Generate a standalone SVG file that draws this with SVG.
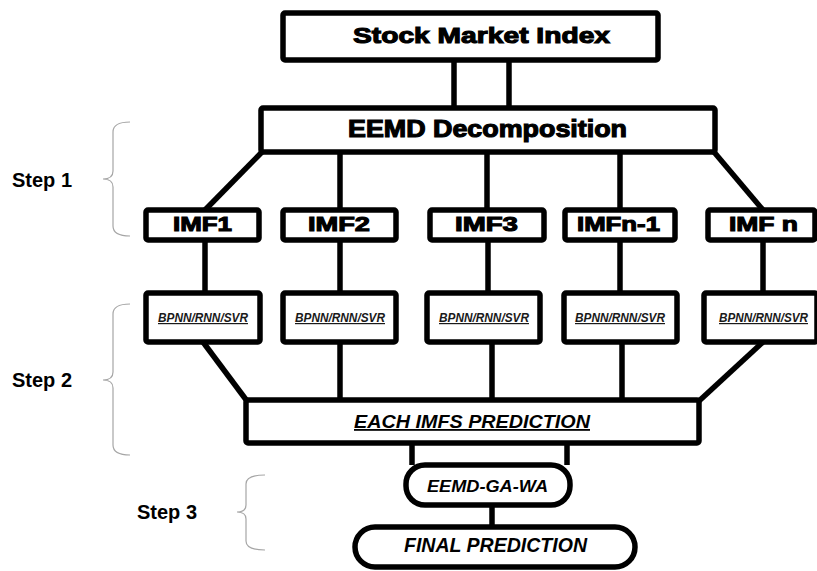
<svg xmlns="http://www.w3.org/2000/svg" width="817" height="571" viewBox="0 0 817 571">
<style>
.box{fill:#fff;stroke:#000;stroke-width:5.5;stroke-linejoin:round}
.c{fill:none;stroke:#000;stroke-width:5.5;stroke-linecap:butt}
.br{fill:none;stroke:#a6a6a6;stroke-width:1.2}
.hv{font-family:"Liberation Sans",Arial,sans-serif;font-weight:bold;fill:#000;stroke:#000;stroke-width:1.1}
.bp{font-family:"Liberation Sans",Arial,sans-serif;font-weight:bold;font-style:italic;font-size:12px;fill:#1a1a1a;text-decoration:underline}
.it{font-family:"Liberation Sans",Arial,sans-serif;font-weight:bold;font-style:italic;fill:#000}
.st{font-family:"Liberation Sans",Arial,sans-serif;font-weight:bold;font-size:20px;fill:#000}
</style>
<rect width="817" height="571" fill="#fff"/>
<g id="connectors">
<line class="c" x1="454" y1="60" x2="454" y2="108"/>
<line class="c" x1="509" y1="60" x2="509" y2="108"/>
<polyline class="c" points="262,152 205,210"/>
<line class="c" x1="340" y1="152" x2="340" y2="210"/>
<line class="c" x1="487" y1="152" x2="487" y2="210"/>
<line class="c" x1="620" y1="152" x2="620" y2="210"/>
<polyline class="c" points="714,152 763,210"/>
<line class="c" x1="205" y1="240" x2="205" y2="293"/>
<line class="c" x1="340" y1="240" x2="340" y2="293"/>
<line class="c" x1="488" y1="240" x2="488" y2="293"/>
<line class="c" x1="620" y1="240" x2="620" y2="293"/>
<line class="c" x1="763" y1="240" x2="763" y2="293"/>
<line class="c" x1="203" y1="342" x2="247" y2="401"/>
<line class="c" x1="340" y1="342" x2="340" y2="400"/>
<line class="c" x1="492" y1="342" x2="492" y2="400"/>
<line class="c" x1="622" y1="342" x2="622" y2="400"/>
<line class="c" x1="763" y1="342" x2="699" y2="401"/>
<line class="c" x1="412" y1="443" x2="412" y2="465"/>
<line class="c" x1="567" y1="443" x2="567" y2="465"/>
<line class="c" x1="492" y1="505" x2="492" y2="527"/>
</g>
<g id="stock">
<rect class="box" x="283" y="13" width="375" height="47" rx="2"/>
<text class="hv" x="353" y="43" font-size="22" textLength="257" lengthAdjust="spacingAndGlyphs">Stock Market Index</text>
</g>
<g id="eemd">
<rect class="box" x="261" y="108" width="454" height="44" rx="2"/>
<text class="hv" x="348" y="137" font-size="23" textLength="279" lengthAdjust="spacingAndGlyphs">EEMD Decomposition</text>
</g>
<g id="imf1">
<rect class="box" x="146" y="210" width="113" height="30" rx="2"/>
<text class="hv" x="173" y="231" font-size="21" textLength="59" lengthAdjust="spacingAndGlyphs">IMF1</text>
</g>
<g id="imf2">
<rect class="box" x="283" y="210" width="113" height="30" rx="2"/>
<text class="hv" x="308" y="231" font-size="21" textLength="62" lengthAdjust="spacingAndGlyphs">IMF2</text>
</g>
<g id="imf3">
<rect class="box" x="430" y="210" width="114" height="30" rx="2"/>
<text class="hv" x="455" y="231" font-size="21" textLength="63" lengthAdjust="spacingAndGlyphs">IMF3</text>
</g>
<g id="imfn1">
<rect class="box" x="565" y="210" width="110" height="30" rx="2"/>
<text class="hv" x="577" y="231" font-size="21" textLength="83" lengthAdjust="spacingAndGlyphs">IMFn-1</text>
</g>
<g id="imfn">
<rect class="box" x="708" y="210" width="107" height="30" rx="2"/>
<text class="hv" x="729" y="231" font-size="21" textLength="69" lengthAdjust="spacingAndGlyphs">IMF n</text>
</g>
<g id="model1">
<rect class="box" x="146" y="293" width="114" height="49" rx="2"/>
<text class="bp" x="158" y="322" textLength="90" lengthAdjust="spacingAndGlyphs">BPNN/RNN/SVR</text>
</g>
<g id="model2">
<rect class="box" x="283" y="293" width="113" height="49" rx="2"/>
<text class="bp" x="295" y="322" textLength="90" lengthAdjust="spacingAndGlyphs">BPNN/RNN/SVR</text>
</g>
<g id="model3">
<rect class="box" x="427" y="293" width="113" height="49" rx="2"/>
<text class="bp" x="439" y="322" textLength="90" lengthAdjust="spacingAndGlyphs">BPNN/RNN/SVR</text>
</g>
<g id="model4">
<rect class="box" x="564" y="293" width="113" height="49" rx="2"/>
<text class="bp" x="575" y="322" textLength="90" lengthAdjust="spacingAndGlyphs">BPNN/RNN/SVR</text>
</g>
<g id="model5">
<rect class="box" x="704" y="293" width="113" height="49" rx="2"/>
<text class="bp" x="719" y="322" textLength="89" lengthAdjust="spacingAndGlyphs">BPNN/RNN/SVR</text>
</g>
<g id="each">
<rect class="box" x="246" y="400" width="453" height="43" rx="2"/>
<text class="it" x="354" y="428" font-size="18" font-weight="600" text-decoration="underline" textLength="236" lengthAdjust="spacingAndGlyphs">EACH IMFS PREDICTION</text>
</g>
<g id="gawa">
<rect class="box" x="406" y="465" width="164" height="40" rx="19"/>
<text class="it" x="427" y="492" font-size="17" textLength="121" lengthAdjust="spacingAndGlyphs">EEMD-GA-WA</text>
</g>
<g id="final">
<rect class="box" x="355" y="527" width="280" height="40" rx="20"/>
<text class="it" x="404" y="552" font-size="20" textLength="183" lengthAdjust="spacingAndGlyphs">FINAL PREDICTION</text>
</g>
<g id="steps">
<path class="br" d="M130,122 Q113,122 113,132 L113,171 Q113,179 103,179 Q113,179 113,187 L113,226 Q113,236 130,236"/>
<text class="st" x="12" y="187">Step 1</text>
<path class="br" d="M130,304 Q113,304 113,314 L113,372 Q113,380 103,380 Q113,380 113,388 L113,445 Q113,455 130,455"/>
<text class="st" x="12" y="387">Step 2</text>
<path class="br" d="M265,475 Q246,475 246,484 L246,505 Q246,512 237,512 Q246,512 246,519 L246,541 Q246,550 265,550"/>
<text class="st" x="137" y="519">Step 3</text>
</g>
</svg>
